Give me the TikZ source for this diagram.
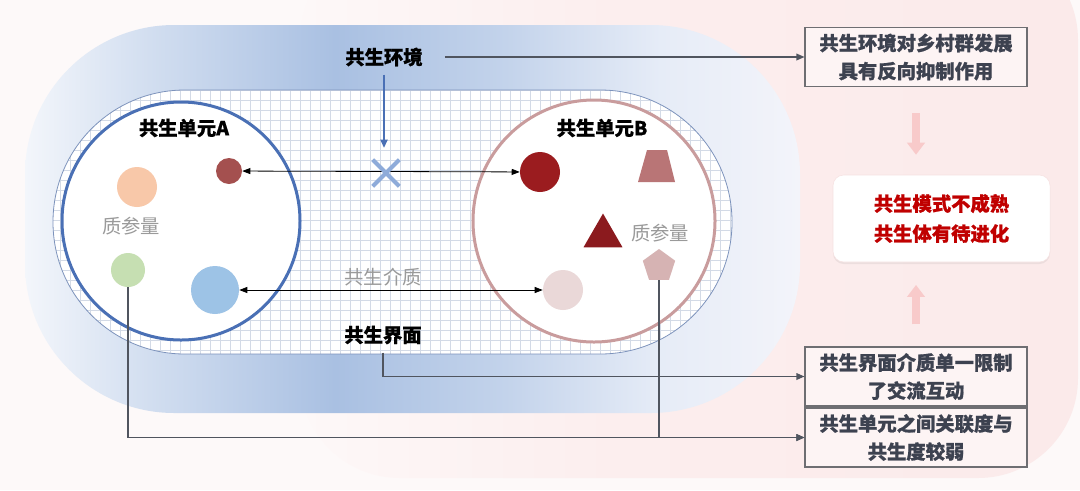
\documentclass[tikz,border=0pt]{standalone}
\usepackage{fontspec}
\setmainfont{Noto Sans CJK SC}[BoldFeatures={FakeBold=0.8}]
\usetikzlibrary{arrows.meta,shapes.geometric,shapes.misc,calc,shadows}

\definecolor{bgc}{HTML}{FDF9F9}
\definecolor{pnA}{HTML}{FDF8F8}
\definecolor{pnB}{HTML}{FCEEEE}
\definecolor{pnC}{HTML}{FBEAEA}
\definecolor{envL}{HTML}{F3F6FB}
\definecolor{envA}{HTML}{D2DEF0}
\definecolor{envM}{HTML}{A9C0E2}
\definecolor{envB}{HTML}{C3D3EB}
\definecolor{envC}{HTML}{E6ECF7}
\definecolor{envR}{HTML}{F3F4FA}
\definecolor{gridc}{HTML}{D3DAE6}
\definecolor{gridb}{HTML}{7D93BC}
\definecolor{unitA}{HTML}{4A70B5}
\definecolor{unitB}{HTML}{C99C9D}
\definecolor{cAone}{HTML}{A4504F}
\definecolor{cAtwo}{HTML}{F8C8A9}
\definecolor{cAthree}{HTML}{C6DFB2}
\definecolor{cAfour}{HTML}{9DC3E6}
\definecolor{cBone}{HTML}{9B1C1F}
\definecolor{cBtwo}{HTML}{B97576}
\definecolor{cBthree}{HTML}{8B1A1E}
\definecolor{cBfour}{HTML}{EAD8D8}
\definecolor{cBfive}{HTML}{D6B3B3}
\definecolor{xc}{HTML}{8EABD9}
\definecolor{gtext}{HTML}{9A9A9A}
\definecolor{arrc}{HTML}{50555F}
\definecolor{boxb}{HTML}{6E6E72}
\definecolor{boxf}{HTML}{FDF4F4}
\definecolor{boxt}{HTML}{3D4250}
\definecolor{redt}{HTML}{C00000}
\definecolor{pinka}{HTML}{F8CACA}
\definecolor{midb}{HTML}{F6E2E2}

\pgfdeclarehorizontalshading{envshade}{100bp}{color(0bp)=(envL); color(25bp)=(envL); color(33bp)=(envA); color(45bp)=(envM); color(56bp)=(envB); color(66bp)=(envC); color(75bp)=(envR); color(100bp)=(envR)}
\pgfdeclarehorizontalshading{panelshade}{100bp}{color(0bp)=(pnA); color(25bp)=(pnA); color(45bp)=(pnB); color(75bp)=(pnC); color(100bp)=(pnC)}

\begin{document}
\begin{tikzpicture}[x=0.75pt,y=-0.75pt,
  lbl/.style={font=\bfseries\fontsize{14.5}{17}\selectfont, text=black, inner sep=0},
  glbl/.style={font=\fontsize{14.5}{17}\selectfont, text=gtext, inner sep=0},
  dot/.style={circle, inner sep=0, minimum size=#1},
  arr/.style={draw=arrc, line width=0.9pt, -{Triangle[length=6pt,width=5pt]}},
  bluearr/.style={draw=unitA, line width=0.8pt, -{Triangle[length=6pt,width=5.5pt]}},
  dbl/.style={draw=black, line width=0.6pt, {Triangle[length=6pt,width=4.5pt]}-{Triangle[length=6pt,width=4.5pt]}},
  res/.style={draw=boxb, line width=0.8pt, fill=boxf, minimum width=166.5pt, minimum height=44.25pt, inner sep=0, align=center, text=boxt, font=\bfseries\fontsize{14.5}{21}\selectfont},
  pinkarr/.style={draw=pinka, line width=6pt, -{Triangle[length=9pt,width=13pt]}},
]
\useasboundingbox (0,0) rectangle (1080,490);
% background
\fill[bgc] (0,0) rectangle (1080,490);
\shade[shading=panelshade, rounded corners=75pt] (300,-60) rectangle (1078,478);
% environment band
\shade[shading=envshade, rounded corners=112pt] (25,25) rectangle (800,413);
% interface (grid stadium)
\begin{scope}
\clip[rounded corners=98.9pt] (53,90) rectangle (732,354);
\fill[white] (53,90) rectangle (732,354);
\draw[gridc, line width=0.45pt, step=7.5pt] (53,90) grid (732,354);
\end{scope}
\draw[gridb, line width=0.6pt, rounded corners=98.9pt] (53,90) rectangle (732,354);

% units
\node[circle, draw=unitA, fill=white, line width=2.25pt, minimum size=178.5pt, inner sep=0] (uA) at (181,221) {};
\node[circle, draw=unitB, fill=white, line width=2.25pt, minimum size=181.5pt, inner sep=0] (uB) at (594,221) {};

% labels
\node[lbl] (env) at (384,57) {共生环境};
\node[lbl] (labA) at (184,128) {共生单元A};
\node[lbl] (labB) at (602,128) {共生单元B};
\node[glbl] (qA) at (131,226) {质参量};
\node[glbl] (qB) at (660,233) {质参量};
\node[glbl] (med) at (383,277) {共生介质};
\node[lbl] (iface) at (383,335) {共生界面};

% parameters in A
\node[dot=19.5pt, fill=cAone] (a1) at (229,171) {};
\node[dot=30pt, fill=cAtwo] (a2) at (137,187) {};
\node[dot=25.5pt, fill=cAthree] (a3) at (128,270) {};
\node[dot=36pt, fill=cAfour] (a4) at (215,290) {};
% parameters in B
\node[dot=30pt, fill=cBone] (b1) at (540,172) {};
\fill[cBtwo] (638,182) -- (675,182) -- (667,150) -- (647,150) -- cycle;
\node[regular polygon, regular polygon sides=3, fill=cBthree, minimum size=33.75pt, inner sep=0] (b3) at (603,236) {};
\node[dot=30pt, fill=cBfour] (b4) at (563,290) {};
\node[regular polygon, regular polygon sides=5, fill=cBfive, minimum size=25.5pt, inner sep=0] (b5) at (659,266) {};

% exchanges
\draw[dbl] (a1) -- (b1);
\draw[dbl] (a4) -- (b4);
\node[cross out, draw=xc, line width=3pt, minimum size=17pt, inner sep=0] (xm) at (386,173) {};

% right boxes
\node[res] (box1) at (916,57) {共生环境对乡村群发展\\具有反向抑制作用};
\node[res] (box2) at (916,376.5) {共生界面介质单一限制\\了交流互动};
\node[res] (box3) at (916,437.5) {共生单元之间关联度与\\共生度较弱};
\node[draw=midb, fill=white, rounded corners=8pt, minimum width=162.75pt, minimum height=65.25pt, align=center, text=redt, font=\bfseries\fontsize{14.5}{22.5}\selectfont, drop shadow={opacity=0.12, shadow xshift=0pt, shadow yshift=-1.5pt}] (mid) at (941.5,218.5) {共生模式不成熟\\共生体有待进化};

% connectors
\draw[bluearr, shorten <=6pt, shorten >=9pt] (env.south) -- (env.south |- xm.north);
\draw[arr, shorten <=16.5pt] (env.east) -- (box1.west);
\draw[arr, shorten <=6pt] (iface.south) |- (box2.west);
\draw[arr] (a3.south) |- (box3.west);
\draw[arr] (b5.south) |- (box3.west);
\draw[pinkarr, shorten <=19.5pt, shorten >=15pt] (box1.south) -- (box1.south |- mid.north);
\draw[pinkarr, shorten <=16.5pt, shorten >=17pt] (box2.north) -- (box2.north |- mid.south);
\end{tikzpicture}
\end{document}
